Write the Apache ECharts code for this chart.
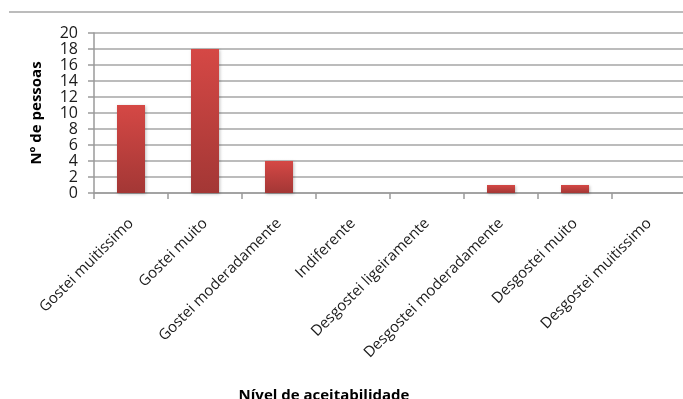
<!DOCTYPE html>
<html>
<head>
<meta charset="utf-8">
<script src="https://cdn.jsdelivr.net/npm/echarts@6/dist/echarts.min.js"></script>
<style>
  html, body { margin: 0; padding: 0; background: #fff; }
  #chart { width: 683px; height: 399px; }
</style>
</head>
<body>
<div id="chart"></div>
<script>
// Acceptability scale categories and number of respondents per level
const categories = [
  'Gostei muitissimo',
  'Gostei muito',
  'Gostei moderadamente',
  'Indiferente',
  'Desgostei ligeiramente',
  'Desgostei moderadamente',
  'Desgostei muito',
  'Desgostei muitissimo'
];
const pessoas = [11, 18, 4, 0, 0, 1, 1, 0];
const yTicks = { min: 0, max: 20, interval: 2 };

const FONT = '"Open Sans", "Liberation Sans", sans-serif';

const chart = echarts.init(document.getElementById('chart'), null, { renderer: 'canvas' });

chart.setOption({
  animation: false,
  backgroundColor: '#ffffff',
  graphic: [{
    type: 'line',
    shape: { x1: 9, y1: 12, x2: 683, y2: 12 },
    style: { stroke: '#a6a6a6', lineWidth: 1.5 }
  }],
  grid: {
    left: 94, top: 33, width: 592, height: 160,
    containLabel: false, outerBoundsMode: 'none'
  },
  xAxis: {
    type: 'category',
    data: categories,
    name: 'Nível de aceitabilidade',
    nameLocation: 'middle',
    nameGap: 195,
    nameTextStyle: { fontFamily: FONT, fontWeight: 'bold', fontSize: 15, color: '#000', padding: [0, 0, 0, -132] },
    axisLine: { lineStyle: { color: '#9a9a9a', width: 1.5 } },
    axisTick: { show: true, alignWithLabel: false, length: 6, lineStyle: { color: '#9a9a9a', width: 1.5 } },
    axisLabel: {
      interval: 0, rotate: 45, margin: 28, hideOverlap: false,
      fontFamily: FONT, fontSize: 15, color: '#1a1a1a'
    },
    splitLine: { show: false }
  },
  yAxis: {
    type: 'value',
    min: yTicks.min, max: yTicks.max, interval: yTicks.interval,
    name: 'Nº de pessoas',
    nameLocation: 'middle',
    nameGap: 50,
    nameRotate: 90,
    nameTextStyle: { fontFamily: FONT, fontWeight: 'bold', fontSize: 15, color: '#000' },
    axisLine: { show: true, lineStyle: { color: '#9a9a9a', width: 1.5 } },
    axisTick: { show: true, inside: false, length: 6, lineStyle: { color: '#9a9a9a', width: 1.5 } },
    axisLabel: {
      fontFamily: FONT, fontSize: 16, color: '#1a1a1a', margin: 16,
      showMinLabel: true, showMaxLabel: true, hideOverlap: false
    },
    splitLine: { show: true, lineStyle: { color: '#a6a6a6', width: 1.5 } }
  },
  series: [{
    type: 'bar',
    data: pessoas,
    barWidth: 28,
    itemStyle: {
      color: new echarts.graphic.LinearGradient(0, 0, 0, 1, [
        { offset: 0, color: '#d54845' },
        { offset: 1, color: '#a33735' }
      ]),
      shadowColor: 'rgba(0,0,0,0.25)',
      shadowBlur: 3,
      shadowOffsetX: 1,
      shadowOffsetY: 1
    }
  }]
});
</script>
</body>
</html>
